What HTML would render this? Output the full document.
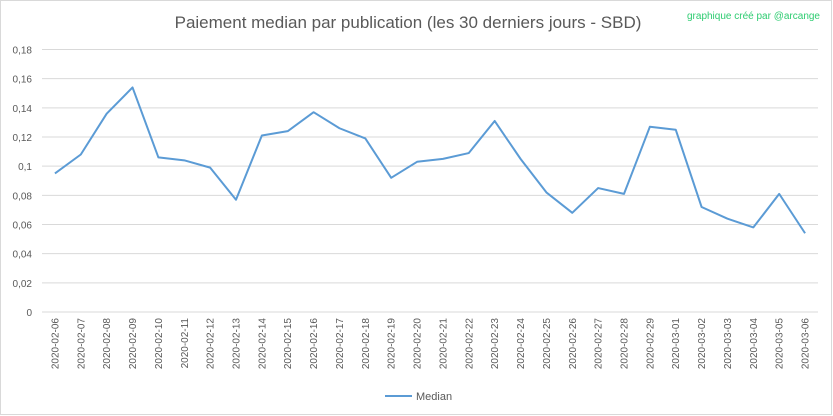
<!DOCTYPE html>
<html><head><meta charset="utf-8"><style>
body{margin:0;background:#fff;font-family:"Liberation Sans",sans-serif}
#c{position:relative;width:833px;height:416px;overflow:hidden}
</style></head><body>
<div id="c">
<svg id="s" width="833" height="416" xmlns="http://www.w3.org/2000/svg">
<rect x="0.5" y="0.5" width="831" height="414" fill="#fff" stroke="#d9d9d9"/>
<text x="408" y="28" text-anchor="middle" font-size="17" fill="#595959">Paiement median par publication (les 30 derniers jours - SBD)</text>
<text x="820" y="19" text-anchor="end" font-size="10" fill="#2ecc71">graphique créé par @arcange</text>
<g id="grid"></g><g id="yl"></g><g id="xl"></g>
<polyline id="line" fill="none" stroke="#5b9bd5" stroke-width="2" stroke-linejoin="round"/>
<line x1="385" y1="396" x2="412" y2="396" stroke="#5b9bd5" stroke-width="2"/>
<text x="416" y="400" font-size="11" fill="#595959">Median</text>
</svg></div>
<script>
const categories=["2020-02-06","2020-02-07","2020-02-08","2020-02-09","2020-02-10","2020-02-11","2020-02-12","2020-02-13","2020-02-14","2020-02-15","2020-02-16","2020-02-17","2020-02-18","2020-02-19","2020-02-20","2020-02-21","2020-02-22","2020-02-23","2020-02-24","2020-02-25","2020-02-26","2020-02-27","2020-02-28","2020-02-29","2020-03-01","2020-03-02","2020-03-03","2020-03-04","2020-03-05","2020-03-06"];
const medianValues=[0.095,0.108,0.136,0.154,0.106,0.104,0.099,0.077,0.121,0.124,0.137,0.126,0.119,0.092,0.103,0.105,0.109,0.131,0.105,0.082,0.068,0.085,0.081,0.127,0.125,0.072,0.064,0.058,0.081,0.054];
const yTicks=[0,0.02,0.04,0.06,0.08,0.1,0.12,0.14,0.16,0.18];
const yTickLabels=["0","0,02","0,04","0,06","0,08","0,1","0,12","0,14","0,16","0,18"];
const NS="http://www.w3.org/2000/svg";
const L=42,R=818,T=49.5,B=312,YMAX=0.18;
const y=v=>B-(v/YMAX)*(B-T);
const bw=(R-L)/categories.length;
const x=i=>L+bw*(i+0.5);
const g=document.getElementById('grid'),yl=document.getElementById('yl'),xl=document.getElementById('xl');
yTicks.forEach((t,i)=>{
 const ln=document.createElementNS(NS,'line');
 ln.setAttribute('x1',L);ln.setAttribute('x2',R);ln.setAttribute('y1',y(t));ln.setAttribute('y2',y(t));
 ln.setAttribute('stroke','#d9d9d9');ln.setAttribute('stroke-width','1');
 
 
 g.appendChild(ln);
 const tx=document.createElementNS(NS,'text');
 tx.setAttribute('x',32);tx.setAttribute('y',y(t)+4);tx.setAttribute('text-anchor','end');
 tx.setAttribute('font-size','10');tx.setAttribute('fill','#595959');
 tx.textContent=yTickLabels[i];
 
 
 yl.appendChild(tx);
});
categories.forEach((c,i)=>{
 const tx=document.createElementNS(NS,'text');
 const xx=x(i)+3.5,yy=318;
 tx.setAttribute('x',xx);tx.setAttribute('y',yy);tx.setAttribute('text-anchor','end');
 tx.setAttribute('transform','rotate(-90 '+xx+' '+yy+')');
 tx.setAttribute('font-size','10');tx.setAttribute('fill','#595959');
 tx.textContent=c;
 
 
 xl.appendChild(tx);
});
document.getElementById('line').setAttribute('points',medianValues.map((v,i)=>x(i)+','+y(v)).join(' '));
</script>
</body></html>
